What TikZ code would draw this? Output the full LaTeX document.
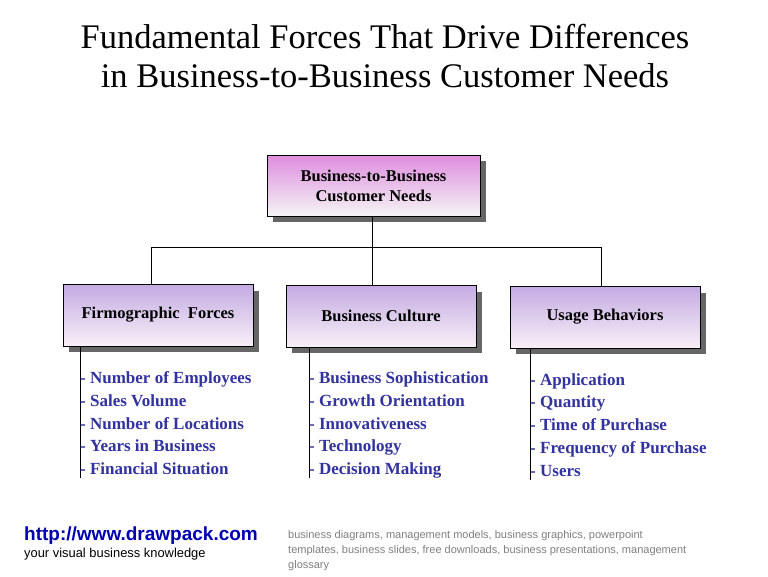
\documentclass[tikz,border=0pt]{standalone}
\usepackage{fontspec}
\setmainfont{Liberation Serif}
\newfontfamily\sansf{Liberation Sans}
\definecolor{itemblue}{RGB}{50,50,160}
\definecolor{toppink}{RGB}{222,140,222}
\definecolor{subviolet}{RGB}{196,170,226}
\begin{document}
\begin{tikzpicture}[x=1pt,y=-1pt,
  topbox/.style={draw=black,line width=0.9pt,top color=toppink,bottom color=gray!8,minimum width=213pt,minimum height=61pt,align=center,font=\bfseries\fontsize{16.5}{20}\selectfont,inner sep=0pt},
  subbox/.style={draw=black,line width=0.9pt,top color=subviolet,bottom color=violet!6!white,minimum width=190pt,minimum height=62pt,align=center,font=\bfseries\fontsize{16.5}{20}\selectfont,inner sep=0pt},
  shadowbox/.style={fill=black!60,draw=none,minimum width=#1,minimum height=61pt,inner sep=0pt},
  item/.style={anchor=base west,text=itemblue,font=\bfseries\fontsize{17}{20}\selectfont,inner sep=0pt},
  conn/.style={line width=0.9pt}]
\useasboundingbox (0,0) rectangle (768,576);
\fill[white] (0,0) rectangle (768,576);
\node[font=\fontsize{34.5}{39}\selectfont,align=center] (title) at (385,56) {Fundamental Forces That Drive Differences\\in Business-to-Business Customer Needs};
% shadows
\node[shadowbox=213pt] at (379.5,191.5) {};
\node[shadowbox=190pt] at (164,321) {};
\node[shadowbox=190pt] at (387,322) {};
\node[shadowbox=190pt] at (611,323) {};
\node[topbox] (top) at (373.5,185.5) {Business-to-Business\\Customer Needs};
\node[subbox] (firm) at (158,315) {Firmographic\ \ Forces};
\node[subbox] (cult) at (381,316) {Business Culture};
\node[subbox] (usage) at (605,317) {Usage Behaviors};
\coordinate (hj) at (372,247);
\coordinate (hl) at (151,247);
\coordinate (hr) at (601,247);
\draw[conn] (top.south -| hj) -- (hj);
\draw[conn] (hl) -- (hr);
\draw[conn] (hl) -- (hl |- firm.north);
\draw[conn] (hj) -- (hj |- cult.north);
\draw[conn] (hr) -- (hr |- usage.north);
\coordinate (f1) at (80,478); \coordinate (c1) at (309,478); \coordinate (u1) at (530,480);
\draw[conn] (firm.south -| f1) -- (f1);
\draw[conn] (cult.south -| c1) -- (c1);
\draw[conn] (usage.south -| u1) -- (u1);
\foreach \t [count=\i] in {Number of Employees,Sales Volume,Number of Locations,Years in Business,Financial Situation}
  \node[item] (fi\i) at (80,361+22.7*\i) {- \t};
\foreach \t [count=\i] in {Business Sophistication,Growth Orientation,Innovativeness,Technology,Decision Making}
  \node[item] (ci\i) at (309,361+22.7*\i) {- \t};
\foreach \t [count=\i] in {Application,Quantity,Time of Purchase,Frequency of Purchase,Users}
  \node[item] (ui\i) at (530,362.5+22.7*\i) {- \t};
\node[anchor=west,inner sep=0pt,text=blue!70!black,font=\sansf\bfseries\fontsize{19}{22}\selectfont] (url) at (24,536) {http://www.drawpack.com};
\node[anchor=west,inner sep=0pt,font=\sansf\fontsize{12.9}{15}\selectfont] (tag) at (24,554) {your visual business knowledge};
\node[anchor=north west,inner sep=0pt,text=gray,align=left,font=\sansf\fontsize{11}{15}\selectfont] (kw) at (288,530) {business diagrams, management models, business graphics, powerpoint\\templates, business slides, free downloads, business presentations, management\\glossary};
\end{tikzpicture}
\end{document}
